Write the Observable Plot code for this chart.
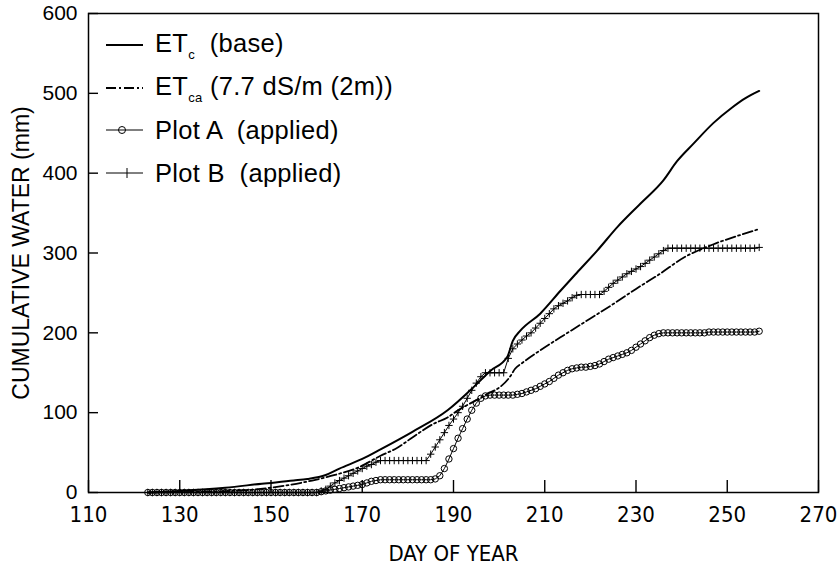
<!DOCTYPE html>
<html><head><meta charset="utf-8">
<script src="https://cdn.jsdelivr.net/npm/d3@7"></script>
<script src="https://cdn.jsdelivr.net/npm/@observablehq/plot@0.6"></script>
<style>
body{margin:0;background:#fff;}
#wrap{position:relative;width:840px;height:564px;}
.leg{position:absolute;left:106px;display:flex;align-items:center;font-family:"Liberation Sans",Arial,sans-serif;font-size:25.5px;color:#000;height:30px;white-space:pre;letter-spacing:0.3px}
.leg svg{margin-right:12px;flex:none}
.leg sub{font-size:13px;vertical-align:-7px}
</style></head><body><div id="wrap"></div>
<script>
// ---- data ----
const startDay = 123;
const plotAValues = [
  0,0,0,0,0,0,0,0,0,0, 0,0,0,0,0,0,0,0,0,0, 0,0,0,0,0,0,0,0,0,0, 0,0,0,0,0,0,0,0,   // 123-160
  1,2,3,4,5,6,7,8,9,10,12,14,15,                                                    // 161-173
  16,16,16,16,16,16,16,16,16,16,16,16,                                              // 174-185
  17,21,30,42,55,68,80,92,103,112,118,                                              // 186-196
  121,122,122,122,122,122,122,                                                      // 197-203
  123,124,126,128,130,133,136,139,143,147,150,153,155,156,157,157,158,159,161,164,167,169,171,173,175,178,182,186,190,194,197,199, // 204-235
  200,200,200,200,200,200,200,200,200,200,201,201,201,201,201,201,201,201,201,201,201,202 // 236-257
];
const plotBValues = [
  0,0,0,0,0,0,0,0,0,0, 0,0,0,0,0,0,0,0,0,0, 0,0,0,0,0,0,0,0,0,0, 0,0,0,0,0,0,0,0,   // 123-160
  2,4,8,12,15,18,21,24,27,30,33,35,38,                                              // 161-173
  40,40,40,40,40,40,40,40,40,40,40,                                                 // 174-184
  48,57,66,75,84,92,100,108,118,128,137,145,                                        // 185-196
  150,150,150,150,150,                                                              // 197-201
  168,180,186,191,196,200,206,212,218,224,230,234,237,240,244,247,                  // 202-217
  248,248,248,248,248,                                                              // 218-222
  252,257,262,266,270,274,277,280,283,287,291,295,299,303,                          // 223-236
  306,306,306,306,306,306,306,306,306,306,306,306,306,306,306,306,306,306,306,306,307 // 237-257
];
const etcDays   = [123,130,140,148,155,158,162,165,170,174,181,188.7,194.4,198,201.8,203,204.7,209,213.5,217,221.5,226,231,236,239,242.6,247,251,254,257];
const etcValues = [0,2,6,11,15,17,22,30,42,54,76,103,132,152,170,190,203,224,253,275,303,333,362,391,415,437,463,482,494,503];
const etcaDays   = [123,135,145,150,159,164,169,174,177.7,181,185.6,188.7,191,196,202.5,203.5,205,209,215,220,225,230,235,241,244,247,252,257];
const etcaValues = [0,1,3,6,15,22,31,46,56,69,86,94,103,119,146,155,162,178,200,218,236,255,273,296,304,311,321,330];
const xTicks = [110,130,150,170,190,210,230,250,270];
const yTicks = [0,100,200,300,400,500,600];

// ---- build tables ----
const aData = plotAValues.map((v,i)=>({day:startDay+i, v}));
const bData = plotBValues.map((v,i)=>({day:startDay+i, v}));
const etcData = etcDays.map((d,i)=>({day:d, v:etcValues[i]}));
const etcaData = etcaDays.map((d,i)=>({day:d, v:etcaValues[i]}));

const condensed = "'Liberation Sans Narrow','DejaVu Sans Condensed','Liberation Sans',sans-serif";
const [xMin, xMax] = [xTicks[0], xTicks[xTicks.length-1]];
const [yMin, yMax] = [yTicks[0], yTicks[yTicks.length-1]];

const chart = Plot.plot({
  width: 840, height: 564,
  marginLeft: 88, marginRight: 22, marginTop: 13, marginBottom: 72,
  x: {domain: [xMin, xMax]},
  y: {domain: [yMin, yMax]},
  style: {fontFamily: "'Liberation Sans', Arial, sans-serif", background: "white", color: "black"},
  marks: [
    Plot.axisX({ticks: xTicks, tickSize: -12, tickPadding: 26, strokeWidth: 1.4, fontSize: 22, fontFamily: condensed,
      label: "DAY OF YEAR", labelAnchor: "center", labelOffset: 68, labelArrow: "none"}),
    Plot.axisY({ticks: yTicks, tickSize: -10, tickPadding: 21, strokeWidth: 1.4, fontSize: 21, label: null}),
    Plot.axisY({ticks: [], tickSize: 0, fontSize: 23,
      label: "CUMULATIVE WATER (mm)", labelAnchor: "center", labelOffset: 76, labelArrow: "none"}),
    Plot.frame({stroke: "black", strokeWidth: 1.5}),
    Plot.line(etcData, {x: "day", y: "v", stroke: "black", strokeWidth: 2, curve: "monotone-x"}),
    Plot.line(etcaData, {x: "day", y: "v", stroke: "black", strokeWidth: 1.8, strokeDasharray: "10,3,2,3", curve: "monotone-x"}),
    Plot.line(aData, {x: "day", y: "v", stroke: "black", strokeWidth: 1}),
    Plot.dot(aData, {x: "day", y: "v", r: 3.2, stroke: "black", fill: "none", strokeWidth: 1}),
    Plot.line(bData, {x: "day", y: "v", stroke: "black", strokeWidth: 1}),
    Plot.dot(bData, {x: "day", y: "v", symbol: "plus", r: 2.5, stroke: "black", strokeWidth: 1})
  ]
});
const wrap = document.getElementById("wrap");
wrap.appendChild(chart);

// ---- legend (HTML overlay) ----
const legendItems = [
  {html: "ET<sub>c</sub>  (base)", kind: "solid", top: 45},
  {html: "ET<sub>ca</sub> (7.7 dS/m (2m))", kind: "dashdot", top: 88},
  {html: "Plot A  (applied)", kind: "circle", top: 130},
  {html: "Plot B  (applied)", kind: "plus", top: 173}
];
for (const it of legendItems) {
  const row = document.createElement("div");
  row.className = "leg";
  row.style.top = (it.top - 15) + "px";
  let sample = `<svg width="37" height="16" viewBox="0 0 37 16">`;
  if (it.kind === "solid") sample += `<line x1="0" y1="8" x2="37" y2="8" stroke="black" stroke-width="2"/>`;
  if (it.kind === "dashdot") sample += `<line x1="0" y1="8" x2="37" y2="8" stroke="black" stroke-width="1.8" stroke-dasharray="10,3,2,3"/>`;
  if (it.kind === "circle") sample += `<line x1="0" y1="8" x2="37" y2="8" stroke="black" stroke-width="1"/><circle cx="16" cy="8" r="3.5" fill="none" stroke="black"/>`;
  if (it.kind === "plus") sample += `<line x1="0" y1="8" x2="37" y2="8" stroke="black" stroke-width="1"/><line x1="21" y1="3" x2="21" y2="13" stroke="black"/>`;
  sample += `</svg>`;
  row.innerHTML = sample + `<span>${it.html}</span>`;
  wrap.appendChild(row);
}
</script></body></html>
